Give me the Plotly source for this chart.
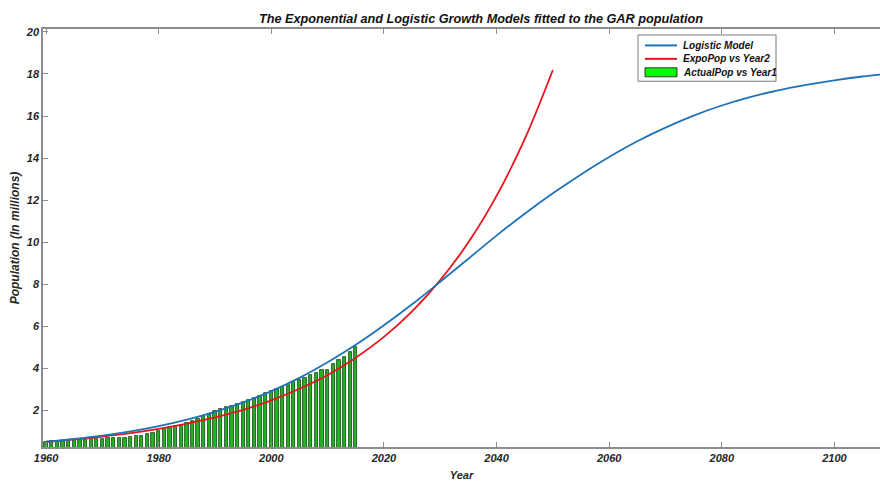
import plotly.graph_objects as go

# Observed population of the region (millions), one bar per year
years_actual = list(range(1960, 2016))
actual_pop = [
    0.50, 0.52, 0.54, 0.55, 0.57, 0.58, 0.60, 0.61, 0.62, 0.64,
    0.65, 0.66, 0.66, 0.68, 0.70, 0.73, 0.75, 0.78, 0.86, 0.92,
    1.00, 1.10, 1.18, 1.24, 1.30, 1.38, 1.48, 1.60, 1.72, 1.82,
    1.95, 2.05, 2.15, 2.22, 2.30, 2.40, 2.50, 2.58, 2.68, 2.80,
    2.90, 3.00, 3.12, 3.22, 3.32, 3.42, 3.55, 3.66, 3.78, 3.92,
    3.90, 4.20, 4.38, 4.55, 4.75, 5.00,
]

# Logistic model curve (millions), every 5 years
years_logistic = list(range(1960, 2115, 5))
logistic_pop = [
    0.50, 0.63, 0.79, 0.99, 1.24, 1.55, 1.92, 2.37, 2.91, 3.54,
    4.28, 5.11, 6.04, 7.04, 8.11, 9.21, 10.31, 11.35, 12.32, 13.22,
    14.05, 14.80, 15.45, 16.02, 16.50, 16.90, 17.22, 17.48, 17.70, 17.88,
    18.02,
]

# Exponential model curve (millions), every 5 years
years_expo = list(range(1960, 2055, 5))
expo_pop = [
    0.50, 0.61, 0.75, 0.91, 1.11, 1.36, 1.66, 2.02, 2.47, 3.02,
    3.68, 4.50, 5.49, 6.70, 8.19, 9.99, 12.20, 14.90, 18.19,
]

x_ticks = [1960, 1980, 2000, 2020, 2040, 2060, 2080, 2100]
y_ticks = [2, 4, 6, 8, 10, 12, 14, 16, 18, 20]

legend_labels = ["Logistic Model", "ExpoPop vs Year2", "ActualPop vs Year1"]

BLUE = "#1f72b8"
RED = "#e8141b"
GREEN = "#00ff00"
AXIS = "#8c8c8c"
TEXT = "#262626"
FONT = "Liberation Sans, Arial, sans-serif"

fig = go.Figure()

fig.add_trace(go.Bar(
    x=years_actual, y=actual_pop, width=0.58,
    marker=dict(color="#22b422", line=dict(color="#143d14", width=0.8)),
    showlegend=False,
))
fig.add_trace(go.Scatter(
    x=years_expo, y=expo_pop, mode="lines",
    line=dict(color=RED, width=1.8, shape="spline", smoothing=1.0),
    showlegend=False,
))
fig.add_trace(go.Scatter(
    x=years_logistic, y=logistic_pop, mode="lines",
    line=dict(color=BLUE, width=1.8, shape="spline", smoothing=1.0),
    showlegend=False,
))

tick_font = dict(family=FONT, size=11, color=TEXT, weight="bold", style="italic")

fig.update_xaxes(
    range=[1959.45, 2108.1], tickvals=x_ticks, ticks="inside", ticklen=5,
    tickcolor=AXIS, tickwidth=1, showline=True, linecolor=AXIS, linewidth=1.5,
    mirror="ticks", showgrid=False, zeroline=False, tickfont=tick_font,
    title=dict(text="Year", font=tick_font, standoff=9),
)
fig.update_yaxes(
    range=[0.25, 20.14], tickvals=y_ticks, ticks="inside", ticklen=5,
    tickcolor=AXIS, tickwidth=1, showline=True, linecolor=AXIS, linewidth=1.5,
    showgrid=False, zeroline=False, tickfont=tick_font,
    title=dict(text="Population (In millions)",
               font=dict(family=FONT, size=12, color=TEXT, weight="bold", style="italic"),
               standoff=4),
)

# Hand-built legend box in the upper right of the axes
L, T, R, B = 638, 35, 776, 81.5
W, H = 837.0, 420.0
def px(x):
    return (x - 43) / W
def py(y):
    return (449 - y) / H

shapes = [dict(type="rect", xref="paper", yref="paper",
               x0=px(L), x1=px(R), y0=py(B), y1=py(T),
               fillcolor="white", line=dict(color="#7a7a7a", width=1), layer="above")]
rows = [45.5, 59, 72.5]
shapes.append(dict(type="line", xref="paper", yref="paper", x0=px(645), x1=px(677),
                   y0=py(rows[0]), y1=py(rows[0]), line=dict(color=BLUE, width=2), layer="above"))
shapes.append(dict(type="line", xref="paper", yref="paper", x0=px(645), x1=px(677),
                   y0=py(rows[1]), y1=py(rows[1]), line=dict(color=RED, width=2), layer="above"))
shapes.append(dict(type="rect", xref="paper", yref="paper", x0=px(645), x1=px(677),
                   y0=py(rows[2] + 4.5), y1=py(rows[2] - 4.5), fillcolor=GREEN,
                   line=dict(color="#333333", width=1), layer="above"))

annotations = [
    dict(text=lab, xref="paper", yref="paper", x=px(681), y=py(r), xanchor="left",
         yanchor="middle", showarrow=False,
         font=dict(family=FONT, size=10, color="#111111", weight="bold", style="italic"))
    for lab, r in zip(legend_labels, rows)
]

fig.update_layout(
    width=880, height=481,
    margin=dict(l=43, r=0, t=29, b=32),
    paper_bgcolor="white", plot_bgcolor="white",
    title=dict(text="The Exponential and Logistic Growth Models fitted to the GAR population",
               x=(481 - 43) / W, xref="paper", xanchor="center",
               y=1 - 19 / 481, yanchor="middle",
               font=dict(family=FONT, size=12.7, color="#111111", weight="bold", style="italic")),
    shapes=shapes, annotations=annotations,
    bargap=0, showlegend=False,
)

fig.write_html("out.html")
